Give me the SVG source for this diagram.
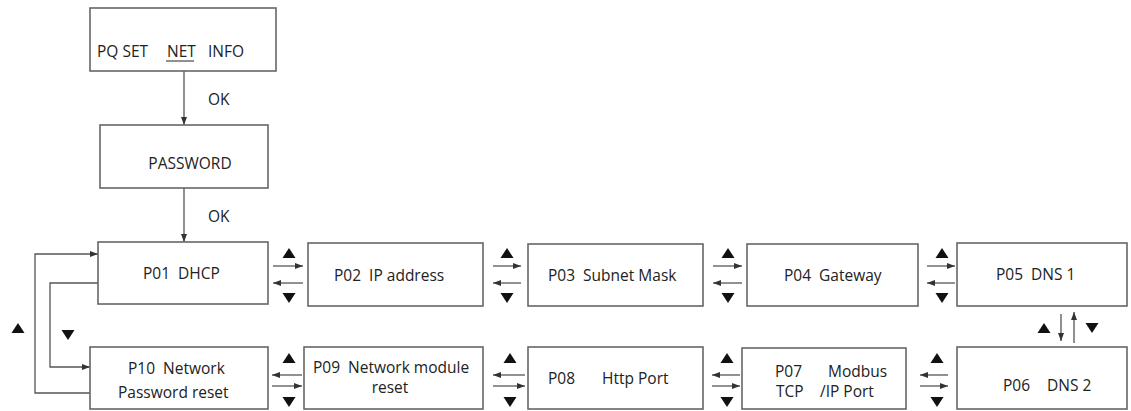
<svg xmlns="http://www.w3.org/2000/svg" width="1131" height="411" viewBox="0 0 1131 411">
<style>
.box{fill:#fff;stroke:#666;stroke-width:1.6}
.t{font-family:"Open Sans","Liberation Sans",sans-serif;font-size:15.5px;fill:#222;white-space:pre}
.c{text-anchor:middle}
.ln{fill:none;stroke:#555;stroke-width:1.3}
.tri{fill:#111}
</style>
<defs>
<marker id="ah" markerUnits="userSpaceOnUse" markerWidth="9" markerHeight="7" refX="8" refY="3.5" orient="auto">
<path d="M0,0.5 L8,3.5 L0,6.5 z" fill="#333"/>
</marker>
<path id="up" d="M-6.5,5 L6.5,5 L0,-5 z"/>
<path id="dn" d="M-6.5,-5 L6.5,-5 L0,5 z"/>
</defs>
<rect width="1131" height="411" fill="#fff"/>

<g id="connectors">
<line class="ln" x1="184" y1="71" x2="184" y2="125" marker-end="url(#ah)"/>
<line class="ln" x1="184" y1="188" x2="184" y2="242" marker-end="url(#ah)"/>
<text class="t" x="208" y="105">OK</text>
<text class="t" x="208" y="222">OK</text>
<!-- left loop -->
<polyline class="ln" points="90,393 35,393 35,254 98,254" marker-end="url(#ah)"/>
<polyline class="ln" points="98,283 50,283 50,367 90,367" marker-end="url(#ah)"/>
<use href="#up" class="tri" x="18" y="328"/>
<use href="#dn" class="tri" x="68" y="335"/>
<!-- top row gaps -->
<g>
<use href="#up" class="tri" x="289" y="253"/>
<line class="ln" x1="273" y1="266" x2="303" y2="266" marker-end="url(#ah)"/>
<line class="ln" x1="303" y1="283" x2="273" y2="283" marker-end="url(#ah)"/>
<use href="#dn" class="tri" x="289" y="298"/>
</g>
<g>
<use href="#up" class="tri" x="507" y="253"/>
<line class="ln" x1="493" y1="266" x2="521" y2="266" marker-end="url(#ah)"/>
<line class="ln" x1="521" y1="283" x2="493" y2="283" marker-end="url(#ah)"/>
<use href="#dn" class="tri" x="507" y="298"/>
</g>
<g>
<use href="#up" class="tri" x="728" y="253"/>
<line class="ln" x1="713" y1="266" x2="742" y2="266" marker-end="url(#ah)"/>
<line class="ln" x1="742" y1="283" x2="713" y2="283" marker-end="url(#ah)"/>
<use href="#dn" class="tri" x="728" y="298"/>
</g>
<g>
<use href="#up" class="tri" x="942" y="253"/>
<line class="ln" x1="927" y1="266" x2="955" y2="266" marker-end="url(#ah)"/>
<line class="ln" x1="955" y1="283" x2="927" y2="283" marker-end="url(#ah)"/>
<use href="#dn" class="tri" x="942" y="298"/>
</g>
<!-- vertical P05/P06 -->
<use href="#up" class="tri" x="1044" y="328"/>
<line class="ln" x1="1061" y1="314" x2="1061" y2="341" marker-end="url(#ah)"/>
<line class="ln" x1="1074" y1="343" x2="1074" y2="312" marker-end="url(#ah)"/>
<use href="#dn" class="tri" x="1092" y="328"/>
<!-- bottom row gaps -->
<g>
<use href="#up" class="tri" x="289" y="358"/>
<line class="ln" x1="302" y1="375" x2="272" y2="375" marker-end="url(#ah)"/>
<line class="ln" x1="272" y1="386" x2="302" y2="386" marker-end="url(#ah)"/>
<use href="#dn" class="tri" x="289" y="402"/>
</g>
<g>
<use href="#up" class="tri" x="510" y="358"/>
<line class="ln" x1="525" y1="375" x2="493" y2="375" marker-end="url(#ah)"/>
<line class="ln" x1="493" y1="386" x2="525" y2="386" marker-end="url(#ah)"/>
<use href="#dn" class="tri" x="510" y="402"/>
</g>
<g>
<use href="#up" class="tri" x="727" y="358"/>
<line class="ln" x1="740" y1="375" x2="712" y2="375" marker-end="url(#ah)"/>
<line class="ln" x1="712" y1="386" x2="740" y2="386" marker-end="url(#ah)"/>
<use href="#dn" class="tri" x="727" y="402"/>
</g>
<g>
<use href="#up" class="tri" x="937" y="358"/>
<line class="ln" x1="948" y1="375" x2="920" y2="375" marker-end="url(#ah)"/>
<line class="ln" x1="920" y1="386" x2="948" y2="386" marker-end="url(#ah)"/>
<use href="#dn" class="tri" x="937" y="402"/>
</g>
</g>

<g id="menu">
<rect class="box" x="90" y="8" width="186" height="63"/>
<text class="t" x="97" y="57">PQ SET</text>
<text class="t" x="167" y="57">NET</text>
<line x1="166" y1="61" x2="194" y2="61" stroke="#222" stroke-width="1"/>
<text class="t" x="208" y="57">INFO</text>
</g>
<g id="password">
<rect class="box" x="100" y="125" width="168" height="63"/>
<text class="t c" x="190" y="169">PASSWORD</text>
</g>
<g id="p01">
<rect class="box" x="98" y="242" width="170" height="62"/>
<text class="t" x="143" y="279">P01  DHCP</text>
</g>
<g id="p02">
<rect class="box" x="308" y="243" width="175" height="63"/>
<text class="t" x="334" y="281">P02  IP address</text>
</g>
<g id="p03">
<rect class="box" x="528" y="244" width="175" height="62"/>
<text class="t" x="548" y="281">P03  Subnet Mask</text>
</g>
<g id="p04">
<rect class="box" x="747" y="244" width="171" height="62"/>
<text class="t" x="784" y="281">P04  Gateway</text>
</g>
<g id="p05">
<rect class="box" x="957" y="243" width="170" height="63"/>
<text class="t" x="996" y="280">P05  DNS 1</text>
</g>
<g id="p06">
<rect class="box" x="957" y="347" width="170" height="62"/>
<text class="t" x="1003" y="391">P06</text>
<text class="t" x="1047" y="391">DNS 2</text>
</g>
<g id="p07">
<rect class="box" x="742" y="348" width="164" height="61"/>
<text class="t" x="775" y="377">P07</text>
<text class="t" x="828" y="377">Modbus</text>
<text class="t" x="776" y="397">TCP</text>
<text class="t" x="820" y="397">/IP Port</text>
</g>
<g id="p08">
<rect class="box" x="528" y="347" width="175" height="62"/>
<text class="t" x="548" y="384">P08</text>
<text class="t" x="602" y="384">Http Port</text>
</g>
<g id="p09">
<rect class="box" x="304" y="347" width="179" height="62"/>
<text class="t" x="313" y="373">P09  Network module</text>
<text class="t c" x="390" y="393">reset</text>
</g>
<g id="p10">
<rect class="box" x="90" y="347" width="178" height="62"/>
<text class="t" x="128" y="374">P10  Network</text>
<text class="t" x="118" y="398">Password reset</text>
</g>
</svg>
